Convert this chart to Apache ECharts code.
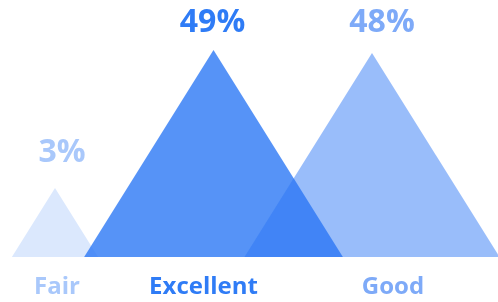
<!DOCTYPE html>
<html>
<head>
<meta charset="utf-8">
<script src="https://cdn.jsdelivr.net/npm/echarts@6/dist/echarts.min.js"></script>
<style>html,body{margin:0;padding:0;background:#fff;}#c{width:498px;height:302px;}</style>
</head>
<body>
<div id="c"></div>
<script>
const categories = ['Fair', 'Excellent', 'Good'];
const values = [3, 49, 48];
const valueLabels = ['3%', '49%', '48%'];

const BASE = -20;
const fills = ['rgba(41,118,245,0.17)', 'rgba(41,118,245,0.79)', 'rgba(41,118,245,0.48)'];
const textColors = ['#a9c8fb', '#2f7cf6', '#7eaaf8'];
const valueLabelShift = [[7, 19], [-1, 11], [10, 14]];
const catLabelShift = [2, -10, 21];

const chart = echarts.init(document.getElementById('c'), null, {renderer: 'canvas'});
const rich = {};
categories.forEach((c, i) => {
  const s = catLabelShift[i];
  rich['c' + i] = {
    color: textColors[i], fontFamily: 'Open Sans', fontWeight: 'bold', fontSize: 24,
    padding: s >= 0 ? [0, 0, 0, 2 * s] : [0, -2 * s, 0, 0]
  };
});
chart.setOption({
  animation: false,
  backgroundColor: '#ffffff',
  grid: {left: 55, right: 126, top: 50, bottom: 45},
  xAxis: {
    type: 'category', data: categories, boundaryGap: false,
    axisLine: {show: false}, axisTick: {show: false}, splitLine: {show: false},
    axisLabel: {
      margin: 18, interval: 0,
      formatter: (v, i) => '{c' + i + '|' + v + '}',
      rich: rich
    }
  },
  yAxis: {type: 'value', min: BASE, max: 49, show: false},
  series: [{
    type: 'custom',
    clip: false,
    data: values.map((v, i) => [i, v]),
    renderItem: function (params, api) {
      const i = params.dataIndex;
      const top = api.coord([api.value(0), api.value(1)]);
      const base = api.coord([api.value(0), BASE]);
      const h = base[1] - top[1];
      const hw = h * 0.625;
      return {
        type: 'group',
        children: [{
          type: 'polygon',
          shape: {points: [[top[0], top[1]], [top[0] + hw, base[1]], [top[0] - hw, base[1]]]},
          style: {fill: fills[i]}
        }, {
          type: 'text',
          x: top[0] + valueLabelShift[i][0],
          y: top[1] - valueLabelShift[i][1],
          style: {
            text: valueLabels[i], fill: textColors[i],
            font: 'bold 32px "Open Sans"',
            align: 'center', verticalAlign: 'bottom'
          }
        }]
      };
    }
  }]
});
</script>
</body>
</html>
